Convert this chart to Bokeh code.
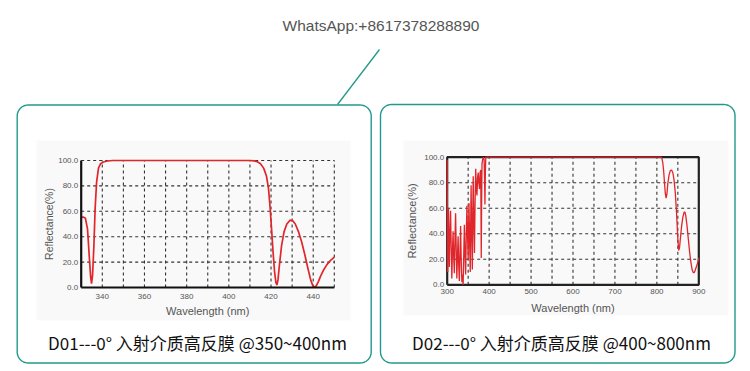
import numpy as np
from bokeh.plotting import figure
from bokeh.models import Range1d
from bokeh.core.properties import value
from bokeh.embed import file_html
from bokeh.resources import INLINE

# ---------------- data ----------------
header_text = "WhatsApp:+8617378288890"
captions = ["D01---0\u00b0 \u5165\u5c04\u4ecb\u8d28\u9ad8\u53cd\u819c @350~400nm",
            "D02---0\u00b0 \u5165\u5c04\u4ecb\u8d28\u9ad8\u53cd\u819c @400~800nm"]

d01_wl = [330, 331, 332, 333, 333.8, 334.5, 334.9, 335.4, 336, 336.6, 337.3, 338.2, 339.2,
          340.5, 342.5, 345, 410, 412, 413.5, 415, 416.5, 417.8, 418.8, 419.6, 420.3, 421,
          421.7, 422.3, 422.8, 423.3, 424, 425, 426.2, 427.5, 429, 430.3, 431.5, 433, 434.5,
          436, 437.5, 438.8, 439.8, 440.5, 441.3, 442.3, 443.5, 445, 446.5, 448, 450]
d01_r = [55, 55.5, 54.5, 46, 25, 8, 3, 10, 32, 62, 83, 94, 97.5,
         98.8, 99.6, 100, 100, 99.7, 99, 97.5, 94, 88, 78, 62, 45, 27,
         12, 4, 2, 6, 18, 33, 44, 50, 53, 52.5, 50, 44, 36,
         26, 15, 6, 1.5, 0.3, 1, 4, 9, 14, 18, 21, 24]

d02_wl = [300, 300.6, 301.2, 302, 303, 304, 305, 306.5, 308, 309.5, 311, 312.5, 314, 315.5,
          317, 318.5, 320, 321.5, 323, 324.5, 326, 327.5, 329, 330.5, 332, 333.5, 335, 336.5,
          338, 339.5, 341, 342.5, 344, 345.5, 347, 348.5, 350, 351, 352, 353.5, 355, 356, 357,
          358.5, 360, 361, 362, 363.5, 365, 366.5, 368, 369.5, 371, 372.5, 374, 375.5, 377,
          378.5, 380, 380.7, 381.2, 382, 383, 384.5, 386, 388, 389, 390, 391, 392,
          810, 812, 814, 816, 818, 820, 822, 824, 826, 829, 832, 835, 838, 841, 844, 847, 850,
          852, 854, 856, 859, 862, 865, 867, 869, 872, 875, 878, 881, 884, 887, 889, 891, 894,
          897, 900]
d02_r = [98, 40, 10, 35, 60, 35, 14, 40, 58, 30, 5, 25, 42, 22,
         9, 35, 56, 28, 5, 22, 38, 15, 3, 25, 46, 18, 2, 8,
         0, 25, 47, 22, 8, 38, 62, 40, 20, 45, 64, 32, 10, 48, 78,
         40, 12, 55, 85, 50, 25, 65, 91, 75, 70, 84, 88, 80, 75,
         88, 90, 50, 21, 60, 95, 98, 100, 98, 85, 63, 88, 100,
         100, 99, 96, 90, 81, 72, 68, 71, 79, 86, 89.5, 90, 88, 82, 72, 56, 36,
         27, 29, 36, 46, 53, 57, 57, 54, 46, 36, 26, 18, 12, 9.5, 9.5, 11, 14,
         17, 21]

d01_xticks = [340, 360, 380, 400, 420, 440]
d01_xgrid = [340, 350, 360, 370, 380, 390, 400, 410, 420, 430, 440, 450]
d02_xticks = [300, 400, 500, 600, 700, 800, 900]
d02_xgrid = [350, 400, 450, 500, 550, 600, 650, 700, 750, 800, 850]
y_ticks = [0, 20, 40, 60, 80, 100]
y_tick_labels = ["0.0", "20.0", "40.0", "60.0", "80.0", "100.0"]
x_title = "Wavelength (nm)"
y_title = "Reflectance(%)"

# ---------------- layout helpers ----------------
W, H = 742, 366


def x_range_for(v0, p0, v1, p1):
    s = (v1 - v0) / (p1 - p0)
    start = v0 - p0 * s
    return Range1d(start, start + W * s)


def y_range_for(v0, p0, v1, p1):
    s = (v1 - v0) / (p0 - p1)
    return Range1d(v0 - (H - p0) * s, v0 + p0 * s)


def rounded_rect(x0, y0, x1, y1, r, n=12):
    xs, ys = [], []
    corners = [(x1 - r, y0 + r, -np.pi / 2, 0), (x1 - r, y1 - r, 0, np.pi / 2),
               (x0 + r, y1 - r, np.pi / 2, np.pi), (x0 + r, y0 + r, np.pi, 1.5 * np.pi)]
    for cx, cy, a0, a1 in corners:
        t = np.linspace(a0, a1, n)
        xs.extend(cx + r * np.cos(t))
        ys.extend(cy + r * np.sin(t))
    xs.append(xs[0])
    ys.append(ys[0])
    return xs, ys


p = figure(width=W, height=H, x_range=Range1d(0, W), y_range=Range1d(H, 0),
           output_backend="svg", toolbar_location=None, min_border=0,
           x_axis_location=None, y_axis_location=None)
p.grid.visible = False
p.outline_line_color = None
p.background_fill_color = "white"
p.border_fill_color = "white"

p.extra_x_ranges = {"x1": x_range_for(330, 80.7, 450, 333.8),
                    "x2": x_range_for(300, 446.7, 900, 698.3)}
p.extra_y_ranges = {"y1": y_range_for(0, 287, 100, 160),
                    "y2": y_range_for(0, 284.3, 100, 156.7)}

TEAL = "#22998a"
FONT = value("Liberation Sans")
GREY = "#555555"
RED = "#e0262b"

# header + connector
p.text(x=[380.5], y=[25], text=[header_text], text_font=FONT, text_font_size="15.5px",
       text_color="#555555", text_align="center", text_baseline="middle")
p.line(x=[337, 379], y=[104, 49], line_color=TEAL, line_width=1.3)

# boxes
for (bx0, by0, bx1, by1) in [(16.7, 104.5, 370.7, 362.5), (380, 104, 734.5, 362.5)]:
    xs, ys = rounded_rect(bx0, by0, bx1, by1, 11)
    p.line(x=xs, y=ys, line_color=TEAL, line_width=1.4)

# faint panels behind the chart images
p.quad(left=[36, 403], right=[350, 728], top=[140, 140], bottom=[320, 315],
       fill_color="#f9f9f9", line_color=None)

# captions
p.text(x=[197, 561], y=[342, 342], text=captions, text_font=value("Noto Sans CJK SC"),
       text_font_size="17px", text_color="#111111", text_align="center",
       text_baseline="middle")

# ---------------- chart 1 ----------------
k1 = dict(x_range_name="x1", y_range_name="y1")
p.segment(x0=d01_xgrid, x1=d01_xgrid, y0=[0] * len(d01_xgrid), y1=[100] * len(d01_xgrid),
          line_color="#333333", line_width=1.1, line_dash="3 3", **k1)
p.segment(x0=[330] * 5, x1=[450] * 5, y0=y_ticks[1:], y1=y_ticks[1:],
          line_color="#333333", line_width=1.1, line_dash="3 3", **k1)
p.line(x=d01_wl, y=d01_r, line_color=RED, line_width=1.7, **k1)
p.line(x=[330, 330], y=[100, 0], line_color="#111111", line_width=2.2, **k1)
p.line(x=[330, 450], y=[0, 0], line_color="#111111", line_width=2.2, **k1)
p.text(x=[330] * 6, y=y_ticks, text=y_tick_labels, x_offset=-3, text_font=FONT,
       text_font_size="8px", text_color=GREY, text_align="right", text_baseline="middle", **k1)
p.text(x=d01_xticks, y=[0] * len(d01_xticks), text=[str(v) for v in d01_xticks], y_offset=9,
       text_font=FONT, text_font_size="8px", text_color=GREY, text_align="center",
       text_baseline="middle", **k1)
p.text(x=[390], y=[0], text=[x_title], y_offset=23, text_font=FONT, text_font_size="11px",
       text_color=GREY, text_align="center", text_baseline="middle", **k1)
p.text(x=[330], y=[50], text=[y_title], x_offset=-32, angle=np.pi / 2, text_font=FONT,
       text_font_size="10.5px", text_color=GREY, text_align="center", text_baseline="middle", **k1)

# ---------------- chart 2 ----------------
k2 = dict(x_range_name="x2", y_range_name="y2")
p.segment(x0=d02_xgrid, x1=d02_xgrid, y0=[0] * len(d02_xgrid), y1=[100] * len(d02_xgrid),
          line_color="#333333", line_width=1.1, line_dash="3 3", **k2)
p.segment(x0=[300] * 4, x1=[900] * 4, y0=y_ticks[1:5], y1=y_ticks[1:5],
          line_color="#333333", line_width=1.1, line_dash="3 3", **k2)
p.line(x=[300, 900, 900, 300, 300], y=[0, 0, 100, 100, 0], line_color="#222222",
       line_width=2.2, **k2)
p.line(x=d02_wl, y=d02_r, line_color=RED, line_width=1.3, **k2)
p.text(x=[300] * 6, y=y_ticks, text=y_tick_labels, x_offset=-3, text_font=FONT,
       text_font_size="8px", text_color=GREY, text_align="right", text_baseline="middle", **k2)
p.text(x=d02_xticks, y=[0] * len(d02_xticks), text=[str(v) for v in d02_xticks], y_offset=7,
       text_font=FONT, text_font_size="8px", text_color=GREY, text_align="center",
       text_baseline="middle", **k2)
p.text(x=[600], y=[0], text=[x_title], y_offset=23, text_font=FONT, text_font_size="11px",
       text_color=GREY, text_align="center", text_baseline="middle", **k2)
p.text(x=[300], y=[50], text=[y_title], x_offset=-35, angle=np.pi / 2, text_font=FONT,
       text_font_size="11px", text_color=GREY, text_align="center", text_baseline="middle", **k2)

open("out.html", "w").write(file_html(p, INLINE))
